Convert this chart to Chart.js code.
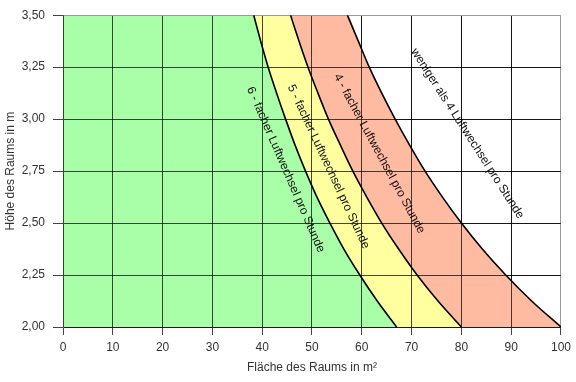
<!DOCTYPE html>
<html>
<head>
<meta charset="utf-8">
<script src="https://cdn.jsdelivr.net/npm/chart.js@4/dist/chart.umd.min.js"></script>
<style>
  html, body { margin: 0; padding: 0; background: #fff; }
  canvas { display: block; }
</style>
</head>
<body>
<canvas id="c" width="576" height="382"></canvas>
<script>
// ---- data ----
const heights = [2.000, 2.125, 2.250, 2.375, 2.500, 2.625, 2.750, 2.875, 3.000, 3.125, 3.250, 3.375, 3.500];
const area6 = [67.0, 63.1, 59.6, 56.4, 53.6, 51.0, 48.7, 46.6, 44.7, 42.9, 41.2, 39.7, 38.3];
const area5 = [80.0, 75.3, 71.1, 67.4, 64.0, 61.0, 58.2, 55.7, 53.3, 51.2, 49.2, 47.4, 45.7];
const area4 = [100.0, 94.1, 88.9, 84.2, 80.0, 76.2, 72.7, 69.6, 66.7, 64.0, 61.5, 59.3, 57.1];

const xTicks = [0, 10, 20, 30, 40, 50, 60, 70, 80, 90, 100];
const yTicks = [2.00, 2.25, 2.50, 2.75, 3.00, 3.25, 3.50];

const labelTexts = [
  "6 - facher Luftwechsel pro Stunde",
  "5 - facher Luftwechsel pro Stunde",
  "4 - facher Luftwechsel pro Stunde",
  "weniger als 4 Luftwechsel pro Stunde"
];
const labelX = [44.7, 53.3, 63.5, 81.2];
const labelY = [2.757, 2.771, 2.834, 2.93];
const labelAngle = [66.5, 65, 61.6, 57.3];

const X_MIN = xTicks[0], X_MAX = xTicks[xTicks.length - 1];
const Y_MIN = yTicks[0], Y_MAX = yTicks[yTicks.length - 1];

function curve(areas) {
  return areas.map((a, i) => ({ x: a, y: heights[i] })).sort((p, q) => p.x - q.x);
}
function fillShape(areas) {
  const pts = curve(areas);
  return [{ x: X_MIN, y: Y_MAX }].concat(pts);
}

const fillCommon = { showLine: true, borderWidth: 0, pointRadius: 0, fill: 'start', tension: 0, cubicInterpolationMode: 'monotone' };
const lineCommon = { showLine: true, borderWidth: 1.6, borderColor: '#000', pointRadius: 0, fill: false, cubicInterpolationMode: 'monotone' };

const datasets = [
  Object.assign({ label: 'l6', data: curve(area6) }, lineCommon),
  Object.assign({ label: 'l5', data: curve(area5) }, lineCommon),
  Object.assign({ label: 'l4', data: curve(area4) }, lineCommon),
  Object.assign({ label: 'f6', data: fillShape(area6), backgroundColor: 'rgb(168,255,168)', borderColor: 'rgba(0,0,0,0)' }, fillCommon),
  Object.assign({ label: 'f5', data: fillShape(area5), backgroundColor: 'rgb(255,255,160)', borderColor: 'rgba(0,0,0,0)' }, fillCommon),
  Object.assign({ label: 'f4', data: fillShape(area4), backgroundColor: 'rgb(255,187,162)', borderColor: 'rgba(0,0,0,0)' }, fillCommon)
];

const gridOnTop = {
  id: 'gridOnTop',
  beforeDatasetsDraw(chart) {
    chart.scales.x.drawGrid(chart.chartArea);
    chart.scales.y.drawGrid(chart.chartArea);
  }
};

const textLabels = {
  id: 'textLabels',
  afterDatasetsDraw(chart) {
    const ctx = chart.ctx;
    const xs = chart.scales.x, ys = chart.scales.y;
    ctx.save();
    ctx.font = '12px "Liberation Sans", Arial, sans-serif';
    ctx.fillStyle = '#111';
    ctx.textAlign = 'center';
    ctx.textBaseline = 'middle';
    labelTexts.forEach((t, i) => {
      const px = xs.getPixelForValue(labelX[i]);
      const py = ys.getPixelForValue(labelY[i]);
      ctx.save();
      ctx.translate(px, py);
      ctx.rotate(labelAngle[i] * Math.PI / 180);
      ctx.fillText(t, 0, 0);
      ctx.restore();
    });
    ctx.restore();
  }
};

function gridColor(ctx, max) {
  if (ctx.tick && Math.abs(ctx.tick.value - max) < 1e-9) return '#9a9a9a';
  return 'rgba(0,0,0,0.72)';
}

new Chart(document.getElementById('c'), {
  type: 'scatter',
  data: { datasets },
  options: {
    responsive: false,
    animation: false,
    layout: { padding: { top: 14, right: 12, bottom: 0, left: 0 } },
    plugins: {
      legend: { display: false },
      tooltip: { enabled: false },
      filler: { drawTime: 'beforeDatasetsDraw' }
    },
    scales: {
      x: {
        type: 'linear',
        min: X_MIN, max: X_MAX,
        afterBuildTicks: s => { s.ticks = xTicks.map(v => ({ value: v })); },
        afterFit: s => { s.height = 55; },
        ticks: {
          color: '#333',
          font: { family: '"Liberation Sans", Arial, sans-serif', size: 12 },
          padding: 5,
          maxRotation: 0,
          callback: v => String(v)
        },
        grid: { color: c => gridColor(c, X_MAX), lineWidth: 1, tickLength: 8, tickColor: '#444' },
        border: { color: '#666', width: 1 },
        title: {
          display: true, text: 'Fläche des Raums in m²', color: '#333',
          font: { family: '"Liberation Sans", Arial, sans-serif', size: 12 },
          padding: { top: 4, bottom: 7 }
        }
      },
      y: {
        type: 'linear',
        min: Y_MIN, max: Y_MAX,
        afterBuildTicks: s => { s.ticks = yTicks.map(v => ({ value: v })); },
        afterFit: s => { s.width = 63; },
        ticks: {
          color: '#333',
          font: { family: '"Liberation Sans", Arial, sans-serif', size: 12 },
          padding: 8,
          callback: v => Number(v).toFixed(2).replace('.', ',')
        },
        grid: { color: c => gridColor(c, Y_MAX), lineWidth: 1, tickLength: 10, tickColor: '#444' },
        border: { color: '#666', width: 1 },
        title: {
          display: true, text: 'Höhe des Raums in m', color: '#333',
          font: { family: '"Liberation Sans", Arial, sans-serif', size: 12 },
          padding: { top: 3, bottom: 4 }
        }
      }
    }
  },
  plugins: [gridOnTop, textLabels]
});
</script>
</body>
</html>
